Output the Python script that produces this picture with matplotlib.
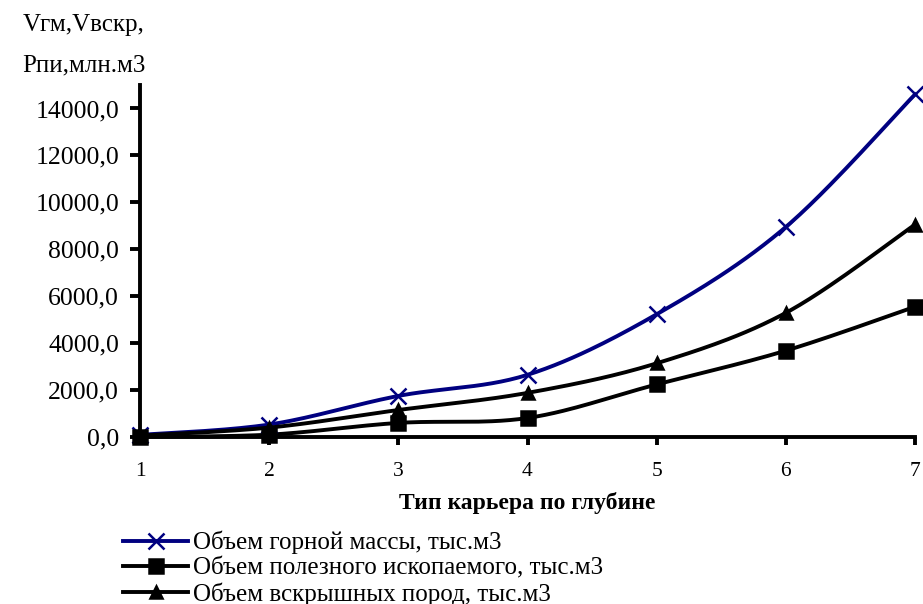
import matplotlib
matplotlib.use("Agg")
import matplotlib.pyplot as plt
import numpy as np
from matplotlib.ticker import FuncFormatter
from matplotlib.lines import Line2D

# data
depth_type = [1, 2, 3, 4, 5, 6, 7]
rock_mass = [90, 530, 1750, 2650, 5230, 8950, 14600]
mineral = [10, 100, 600, 810, 2240, 3680, 5550]
overburden = [60, 400, 1150, 1880, 3140, 5290, 9050]

labels = ["Объем горной массы, тыс.м3",
          "Объем полезного ископаемого, тыс.м3",
          "Объем вскрышных пород, тыс.м3"]


def smooth(x, y, n=30):
    """Excel-like smoothed line: Catmull-Rom bezier through the points."""
    x = np.asarray(x, float)
    y = np.asarray(y, float)
    px = np.concatenate([[x[0]], x, [x[-1]]])
    py = np.concatenate([[y[0]], y, [y[-1]]])
    xs, ys = [], []
    t = np.linspace(0, 1, n)
    for i in range(1, len(px) - 2):
        p0 = np.array([px[i], py[i]])
        p3 = np.array([px[i + 1], py[i + 1]])
        c1 = p0 + (p3 - np.array([px[i - 1], py[i - 1]])) / 6
        c2 = p3 - (np.array([px[i + 2], py[i + 2]]) - p0) / 6
        b = ((1 - t) ** 3)[:, None] * p0 + (3 * (1 - t) ** 2 * t)[:, None] * c1 \
            + (3 * (1 - t) * t ** 2)[:, None] * c2 + (t ** 3)[:, None] * p3
        xs.append(b[:, 0])
        ys.append(b[:, 1])
    return np.concatenate(xs), np.concatenate(ys)


plt.rcParams['font.family'] = ['Liberation Serif', 'DejaVu Serif']

fig = plt.figure(figsize=(9.23, 6.04), dpi=100)
ax = fig.add_axes([140 / 923, 1 - 437 / 604, 775 / 923, 352 / 604])

navy = '#000080'
series = [
    (rock_mass, navy, 'x', 12, 2.8),
    (mineral, 'black', 's', 9.5, 2.8),
    (overburden, 'black', '^', 8, 2.8),
]

handles = []
for (vals, color, marker, ms, lw), lab in zip(series, labels):
    sx, sy = smooth(depth_type, vals)
    ax.plot(sx, sy, color=color, lw=lw, zorder=3, clip_on=False)
    ax.plot(depth_type, vals, linestyle='none', marker=marker, ms=ms,
            color=color, mew=1.8, zorder=4, clip_on=False)
    handles.append(Line2D([], [], color=color, lw=lw, marker=marker, ms=ms, mew=1.8))

ax.set_xlim(1, 7)
ax.set_ylim(0, 15000)
ax.set_xticks(depth_type)
ax.set_yticks(np.arange(0, 14001, 2000))
ax.yaxis.set_major_formatter(FuncFormatter(lambda v, p: f"{v:.1f}".replace('.', ',')))

for side in ['top', 'right']:
    ax.spines[side].set_visible(False)
for side in ['left', 'bottom']:
    ax.spines[side].set_linewidth(2.8)
ax.tick_params(axis='y', direction='out', length=7, width=2.8, labelsize=18.5, pad=8)
ax.tick_params(axis='x', direction='out', length=6, width=2.8, labelsize=15.5, pad=12)

ax.set_xlabel("Тип карьера по глубине", fontsize=17, fontweight='bold', labelpad=8)

fig.text(84 / 923, 1 - 25 / 604, "Vгм,Vвскр,", fontsize=18, ha='center', va='center')
fig.text(84 / 923, 1 - 65 / 604, "Рпи,млн.м3", fontsize=18, ha='center', va='center')

fig.legend(handles, labels, loc='upper left', bbox_to_anchor=(123 / 923, 1 - 531 / 604),
           frameon=False, fontsize=18, handlelength=2.6, handletextpad=0.2,
           labelspacing=0.1, borderaxespad=0, borderpad=0)

fig.savefig("out.png", dpi=100)
